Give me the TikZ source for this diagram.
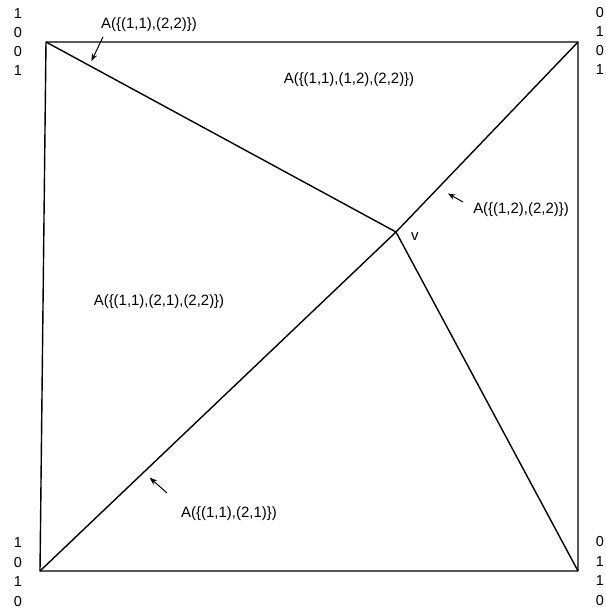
\documentclass[tikz,border=0pt]{standalone}
\usepackage{fontspec}
\setmainfont{Liberation Sans}
\usetikzlibrary{arrows.meta,calc}

\begin{document}
\begin{tikzpicture}[x=1bp, y=-1bp, >=Stealth,
    edge/.style={line width=1.4bp, line join=round},
    pointer/.style={->, line width=1bp, shorten >=1bp},
    region/.style={font=\fontsize{15}{16}\selectfont, inner sep=0pt},
    bit/.style={font=\fontsize{14.5}{15}\selectfont, inner sep=0pt}]
    \useasboundingbox (0,0) rectangle (606,609);
    % corners of the square and the inner vertex
    \coordinate (tl) at (46,42);
    \coordinate (tr) at (578,42);
    \coordinate (bl) at (40,571);
    \coordinate (br) at (578,571);
    \coordinate (v) at (396,232);
    \draw[edge] (tl) -- (tr) -- (br) -- (bl) -- cycle;
    \draw[edge] (tl) -- (v) -- (br);
    \draw[edge] (bl) -- (v) -- (tr);
    \node[region, anchor=west] at (411,237) {v};
    % region labels
    \node[region] (a1122) at (149,25) {A(\{(1,1),(2,2)\})};
    \node[region] (a111222) at (349,80) {A(\{(1,1),(1,2),(2,2)\})};
    \node[region] (a1222) at (521,210) {A(\{(1,2),(2,2)\})};
    \node[region] (a112122) at (159,302) {A(\{(1,1),(2,1),(2,2)\})};
    \node[region] (a1121) at (229,514) {A(\{(1,1),(2,1)\})};
    \coordinate (p1) at (91,62);
    \coordinate (p2) at (447,193);
    \coordinate (p3) at (149,477);
    \draw[pointer] (103,37) -- (p1);
    \draw[pointer] (463,202) -- (p2);
    \draw[pointer] (167,493) -- (p3);
    % corner bit columns
    \foreach \b [count=\i] in {1,0,0,1}
        \node[bit] at (18,{14+19*(\i-1)}) {\b};
    \foreach \b [count=\i] in {0,1,0,1}
        \node[bit] at (600,{13+19*(\i-1)}) {\b};
    \foreach \b [count=\i] in {1,0,1,0}
        \node[bit] at (18,{543+19.5*(\i-1)}) {\b};
    \foreach \b [count=\i] in {0,1,1,0}
        \node[bit] at (600,{542+19.5*(\i-1)}) {\b};
\end{tikzpicture}
\end{document}
